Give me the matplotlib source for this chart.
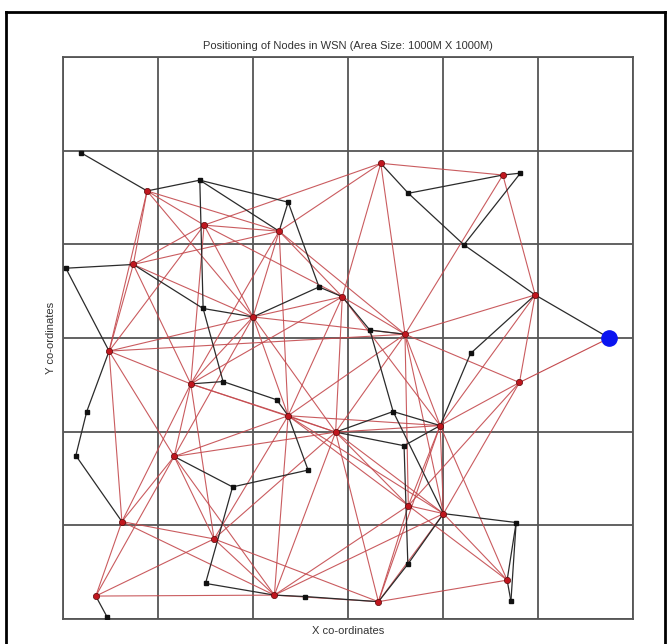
import numpy as np
import matplotlib
matplotlib.use("Agg")
import matplotlib.pyplot as plt
from matplotlib.lines import Line2D

plt.rcParams["font.family"] = ["Liberation Sans", "DejaVu Sans"]

# cluster heads (red) in metres
head_x = [177, 297, 455, 148, 588, 400, 97, 669, 926, 994, 720, 961, 269,
          474, 574, 234, 794, 124, 318, 727, 801, 935, 69, 445, 664]
head_y = [914, 841, 828, 757, 688, 645, 572, 973, 948, 692, 608, 505, 502,
          434, 399, 347, 413, 208, 171, 242, 225, 83, 49, 51, 37]

# ordinary sensor nodes (black)
node_x = [37, 288, 474, 6, 295, 337, 539, 646, 727, 963, 844, 858, 50,
          27, 357, 300, 93, 450, 695, 718, 516, 726, 509, 954, 943]
node_y = [996, 937, 890, 749, 663, 507, 709, 617, 909, 952, 799, 567, 443,
          349, 282, 76, 4, 468, 443, 370, 318, 117, 48, 206, 38]

sink = (1150, 600)

# head-to-head links (indices into head_x / head_y)
red_links = [
    (0, 1), (0, 2), (0, 3), (0, 5), (0, 6), (1, 2), (1, 3), (1, 4), (1, 5),
    (1, 6), (1, 7), (1, 12), (2, 3), (2, 4), (2, 5), (2, 7), (2, 10),
    (2, 12), (2, 13), (3, 5), (3, 6), (3, 12), (4, 5), (4, 7), (4, 10),
    (4, 12), (4, 13), (4, 14), (4, 16), (5, 6), (5, 10), (5, 12), (5, 13),
    (5, 14), (5, 15), (6, 10), (6, 12), (6, 15), (6, 17), (7, 8), (7, 10),
    (8, 9), (8, 10), (9, 10), (9, 11), (9, 16), (10, 11), (10, 13),
    (10, 14), (10, 16), (10, 19), (10, 20), (11, 16), (11, 19), (11, 20),
    (12, 13), (12, 14), (12, 15), (12, 17), (12, 18), (13, 14), (13, 15),
    (13, 16), (13, 18), (13, 19), (13, 20), (13, 23), (14, 15), (14, 16),
    (14, 18), (14, 19), (14, 20), (14, 23), (14, 24), (15, 17), (15, 18),
    (15, 22), (15, 23), (16, 19), (16, 20), (16, 21), (16, 24), (17, 18),
    (17, 22), (17, 23), (18, 22), (18, 23), (18, 24), (19, 20), (19, 21),
    (19, 23), (19, 24), (20, 21), (20, 23), (20, 24), (21, 24), (22, 23),
    (23, 24),
]
sink_head = 11

# routing links, ("h", i) = head i, ("n", i) = node i, ("s", 0) = sink
black_links = [
    (("n", 0), ("h", 0)), (("h", 0), ("n", 1)), (("n", 1), ("n", 2)),
    (("n", 1), ("h", 2)), (("n", 1), ("n", 4)), (("n", 4), ("n", 5)),
    (("n", 3), ("h", 3)), (("n", 3), ("h", 6)), (("h", 3), ("n", 4)),
    (("n", 4), ("h", 5)), (("h", 6), ("n", 12)), (("n", 12), ("n", 13)),
    (("n", 13), ("h", 17)), (("h", 22), ("n", 16)), (("n", 2), ("h", 2)),
    (("n", 2), ("n", 6)), (("n", 6), ("h", 4)), (("h", 4), ("n", 7)),
    (("n", 7), ("h", 10)), (("h", 5), ("n", 6)), (("h", 7), ("n", 8)),
    (("n", 8), ("n", 10)), (("n", 10), ("h", 9)), (("h", 9), ("s", 0)),
    (("n", 8), ("h", 8)), (("h", 8), ("n", 9)), (("n", 9), ("n", 10)),
    (("h", 9), ("n", 11)), (("n", 11), ("h", 16)), (("n", 18), ("h", 16)),
    (("n", 18), ("h", 14)), (("n", 18), ("n", 7)), (("n", 18), ("h", 20)),
    (("n", 19), ("h", 14)), (("n", 19), ("n", 21)), (("n", 19), ("h", 16)),
    (("n", 21), ("h", 24)), (("n", 21), ("h", 20)), (("n", 20), ("h", 13)),
    (("n", 20), ("n", 14)), (("n", 17), ("h", 13)), (("n", 5), ("n", 17)),
    (("n", 14), ("h", 15)), (("n", 14), ("n", 15)), (("n", 15), ("h", 23)),
    (("h", 23), ("n", 22)), (("n", 22), ("h", 24)), (("h", 20), ("n", 23)),
    (("n", 23), ("h", 21)), (("n", 23), ("n", 24)), (("h", 21), ("n", 24)),
    (("h", 12), ("n", 5)),
]


def pos(ref):
    kind, i = ref
    if kind == "h":
        return head_x[i], head_y[i]
    if kind == "n":
        return node_x[i], node_y[i]
    return sink


fig = plt.figure(figsize=(6.67, 6.44), dpi=100)
ax = fig.add_axes([63 / 667, 25 / 644, 570 / 667, 562 / 644])

red = "#c44a4e"
for i, j in red_links:
    ax.plot([head_x[i], head_x[j]], [head_y[i], head_y[j]],
            color=red, lw=0.8, alpha=0.9, zorder=2)
ax.plot([head_x[sink_head], sink[0]], [head_y[sink_head], sink[1]],
        color=red, lw=0.8, zorder=2)

for a, b in black_links:
    (x1, y1), (x2, y2) = pos(a), pos(b)
    ax.plot([x1, x2], [y1, y2], color="#2b2b2b", lw=0.9, zorder=3)

ax.plot(node_x, node_y, "s", color="#111111", ms=2.5, zorder=4)
ax.plot(head_x, head_y, "o", color="#c0161e", mec="#5a0a0a", mew=0.5,
        ms=4.5, zorder=5)
ax.plot(*sink, "o", color="#0a14f0", ms=11, zorder=6)

ax.set_xlim(0, 1200)
ax.set_ylim(0, 1200)
ax.set_xticks(np.arange(0, 1201, 200))
ax.set_yticks(np.arange(0, 1201, 200))
ax.tick_params(length=0, labelbottom=False, labelleft=False)
ax.grid(True, color="#555555", lw=1.3)
ax.set_axisbelow(True)
for s in ax.spines.values():
    s.set_color("#555555")
    s.set_linewidth(1.3)

ax.set_title("Positioning of Nodes in WSN (Area Size: 1000M X 1000M)",
             fontsize=8, color="#333333", pad=6)
ax.set_xlabel("X co-ordinates", fontsize=8, color="#333333", labelpad=5)
ax.set_ylabel("Y co-ordinates", fontsize=8, color="#333333", labelpad=5)

# outer frame of the picture
top = 1 - 12 / 644
fig.add_artist(Line2D([6 / 667, 6 / 667], [0, top], color="black", lw=2))
fig.add_artist(Line2D([6 / 667, 665 / 667], [top, top], color="black", lw=2))
fig.add_artist(Line2D([665 / 667, 665 / 667], [0, top], color="black", lw=2))

fig.savefig("out.png", dpi=100)
plt.close(fig)
